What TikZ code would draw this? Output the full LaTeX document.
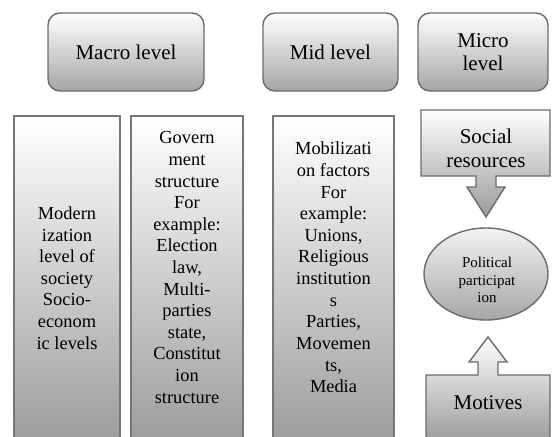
\documentclass[tikz,border=0pt]{standalone}
\usepackage{fontspec}
\setmainfont{Liberation Serif}
\usetikzlibrary{shapes.geometric}
\definecolor{bord}{HTML}{6B6B6B}
\definecolor{tallbord}{HTML}{767676}
\definecolor{topgray}{HTML}{A5A5A5}
\definecolor{tallgray}{HTML}{9D9D9D}
\definecolor{ellgray}{HTML}{A6A6A6}
\definecolor{arrgray}{HTML}{9A9A9A}
\begin{document}
\begin{tikzpicture}[x=1pt,y=-1pt,
  levelbox/.style={draw=bord, line width=1.4pt, rounded corners=12pt,
    top color=white, bottom color=topgray, minimum height=78pt,
    inner sep=0pt, align=center, font=\fontsize{21}{23}\selectfont},
  tallbox/.style={draw=tallbord, line width=1.5pt, top color=white,
    bottom color=tallgray, minimum height=324pt, inner sep=0pt},
  bodytext/.style={align=center, inner sep=0pt, font=\fontsize{18.4}{21.6}\selectfont},
  bigtext/.style={align=center, inner sep=0pt, font=\fontsize{21}{23.5}\selectfont},
  smalltext/.style={align=center, inner sep=0pt, font=\fontsize{15}{17.5}\selectfont},
  callout/.style={draw=bord, line width=1.4pt, line join=miter}
]
\useasboundingbox (0,0) rectangle (553,436);
\clip (0,0) rectangle (553,436);

% top level boxes
\node[levelbox, minimum width=156pt] (macro) at (126,52) {Macro level};
\node[levelbox, minimum width=135pt] (mid) at (330.5,52) {Mid level};
\node[levelbox, minimum width=130pt] (micro) at (483,52) {Micro\\level};

% tall boxes
\node[tallbox, minimum width=106pt] (box1) at (67,278) {};
\node[tallbox, minimum width=112pt] (box2) at (187,278) {};
\node[tallbox, minimum width=121pt] (box3) at (333.5,278) {};

\node[bodytext] (t1) at (67,278) {Modern\\ization\\level of\\society\\Socio-\\econom\\ic levels};
\node[bodytext] (t2) at (187,267.5) {Govern\\ment\\structure\\For\\example:\\Election\\law,\\Multi-\\parties\\state,\\Constitut\\ion\\structure};
\node[bodytext] (t3) at (333.5,267.5) {Mobilizati\\on factors\\For\\example:\\Unions,\\Religious\\institution\\s\\Parties,\\Movemen\\ts,\\Media};

% social resources down-arrow callout
\path[callout, top color=white, bottom color=arrgray]
  (421,110) -- (550,110) -- (550,176) -- (496,176) -- (496,187) -- (505,187)
  -- (486,217) -- (467,187) -- (476,187) -- (476,176) -- (421,176) -- cycle;
\node[bigtext] (social) at (486,148.5) {Social\\resources};

% political participation
\node[ellipse, draw=bord, line width=1.4pt, top color=white!95!black,
  bottom color=ellgray, minimum width=124pt, minimum height=92pt] (pp) at (486,274) {};
\node[smalltext] (pptext) at (487,280) {Political\\participat\\ion};

% motives up-arrow callout
\path[callout, top color=white, bottom color=tallgray]
  (426,440) -- (426,375) -- (478,375) -- (478,362) -- (469,362) -- (488,337)
  -- (507,362) -- (498,362) -- (498,375) -- (550,375) -- (550,440) -- cycle;
\node[bigtext] (motives) at (488,403) {Motives};
\end{tikzpicture}
\end{document}
